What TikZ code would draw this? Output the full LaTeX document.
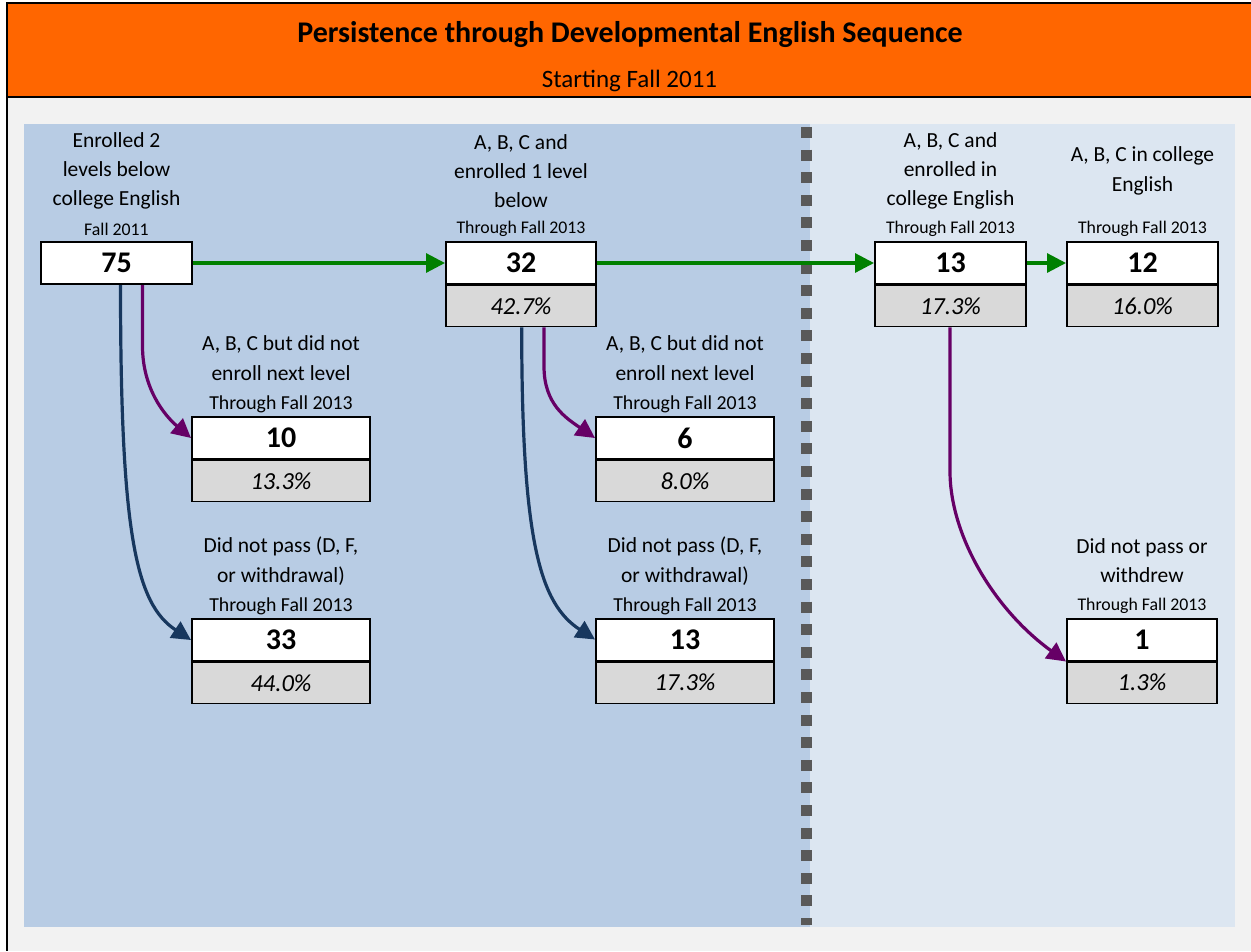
\documentclass[tikz,border=0pt]{standalone}
\usepackage{fontspec}
\setmainfont{Carlito}
\usetikzlibrary{arrows.meta,calc}
\definecolor{hdr}{HTML}{FF6600}
\definecolor{bgg}{HTML}{F2F2F2}
\definecolor{pdark}{HTML}{B8CCE4}
\definecolor{plight}{HTML}{DCE6F1}
\definecolor{sepg}{HTML}{595959}
\definecolor{gfill}{HTML}{D9D9D9}
\definecolor{agreen}{HTML}{008000}
\definecolor{apurple}{HTML}{660066}
\definecolor{ablue}{HTML}{17375E}
\tikzset{
  numbox/.style={draw=black,line width=2pt,fill=white,minimum height=42pt,inner sep=0pt,font=\fontsize{30}{32}\selectfont\bfseries},
  pctbox/.style={draw=black,line width=1.3pt,fill=gfill,minimum height=41pt,inner sep=0pt,anchor=north,font=\fontsize{24.5}{28}\selectfont\itshape},
  lbl/.style={align=center,inner sep=0pt,font=\fontsize{21.5}{29.3}\selectfont},
  sml/.style={align=center,inner sep=0pt,font=\fontsize{17.8}{20}\selectfont},
  smlb/.style={align=center,inner sep=0pt,font=\fontsize{19.8}{22}\selectfont},
  garrow/.style={draw=agreen,line width=3.2pt,-{Triangle[length=19pt,width=19pt]}},
  parrow/.style={draw=apurple,line width=3.2pt,-{Triangle[length=19pt,width=19pt]}},
  barrow/.style={draw=ablue,line width=3.2pt,-{Triangle[length=19pt,width=19pt]}}
}
\begin{document}
\begin{tikzpicture}[x=1pt,y=-1pt]
\useasboundingbox (0,0) rectangle (1251,951);
% background
\fill[white] (0,0) rectangle (1251,951);
\fill[bgg] (7,97) rectangle (1251,951);
\fill[hdr] (7,3) rectangle (1251,97);
\draw[black,line width=2pt] (1251,3) -- (7,3) -- (7,951);
\draw[black,line width=2pt] (7,97) -- (1251,97);
\node[font=\fontsize{30}{34}\selectfont\bfseries] (title) at (630,35) {Persistence through Developmental English Sequence};
\node[font=\fontsize{25}{28}\selectfont] (subtitle) at (629.5,81) {Starting Fall 2011};
% panels
\fill[pdark] (24,124) rectangle (810,927);
\fill[plight] (810,124) rectangle (1235,927);
\begin{scope}
\clip (790,124) rectangle (820,924);
\draw[sepg,line width=11pt,dash pattern=on 11pt off 11.6pt] (806.5,127) -- (806.5,930);
\end{scope}
% top row labels
\node[lbl] (l75) at (116.5,171) {Enrolled 2\\levels below\\college English};
\node[sml] (s75) at (116.5,229) {Fall 2011};
\node[lbl] (l32) at (521,171) {A, B, C and\\enrolled 1 level\\below};
\node[sml] (s32) at (521,229) {Through Fall 2013};
\node[lbl] (l13a) at (950.5,171) {A, B, C and\\enrolled in\\college English};
\node[sml] (s13a) at (950.5,229) {Through Fall 2013};
\node[lbl] (l12) at (1142.5,171) {A, B, C in college\\English};
\node[sml] (s12) at (1142.5,229) {Through Fall 2013};
% lower labels
\node[lbl] (l10) at (281,358) {A, B, C but did not\\enroll next level};
\node[smlb] (s10) at (281,404) {Through Fall 2013};
\node[lbl] (l33) at (281,561) {Did not pass (D, F,\\or withdrawal)};
\node[smlb] (s33) at (281,606) {Through Fall 2013};
\node[lbl] (l6) at (685,358) {A, B, C but did not\\enroll next level};
\node[smlb] (s6) at (685,404) {Through Fall 2013};
\node[lbl] (l13b) at (685,561) {Did not pass (D, F,\\or withdrawal)};
\node[smlb] (s13b) at (685,606) {Through Fall 2013};
\node[lbl] (l1) at (1142,560.5) {Did not pass or\\withdrew};
\node[sml] (s1) at (1142,606) {Through Fall 2013};
% boxes
\node[numbox,minimum width=151pt] (b75) at (116.5,263) {75};
\node[numbox,minimum width=150pt] (b32) at (521,263) {32};
\node[pctbox,minimum width=150pt] (p32) at (b32.south) {42.7\%};
\node[numbox,minimum width=151pt] (b13a) at (950.5,263) {13};
\node[pctbox,minimum width=151pt] (p13a) at (b13a.south) {17.3\%};
\node[numbox,minimum width=151pt] (b12) at (1142.5,263) {12};
\node[pctbox,minimum width=151pt] (p12) at (b12.south) {16.0\%};
\node[numbox,minimum width=178pt] (b10) at (281,438) {10};
\node[pctbox,minimum width=178pt] (p10) at (b10.south) {13.3\%};
\node[numbox,minimum width=178pt] (b33) at (281,640) {33};
\node[pctbox,minimum width=178pt] (p33) at (b33.south) {44.0\%};
\node[numbox,minimum width=178pt] (b6) at (685,438) {6};
\node[pctbox,minimum width=178pt] (p6) at (b6.south) {8.0\%};
\node[numbox,minimum width=178pt] (b13b) at (685,639.5) {13};
\node[pctbox,minimum width=178pt] (p13b) at (b13b.south) {17.3\%};
\node[numbox,minimum width=150pt] (b1) at (1142,639.5) {1};
\node[pctbox,minimum width=150pt] (p1) at (b1.south) {1.3\%};
% green arrows
\draw[garrow] (b75.east) -- (b32.west);
\draw[garrow] (b32.east) -- (b13a.west);
\draw[garrow] (b13a.east) -- (b12.west);
% curved arrows left
\coordinate (a75p) at ($(b75.south)+(26,0)$);
\coordinate (a75b) at ($(b75.south)+(4,0)$);
\draw[parrow] (a75p) -- ++(0,61) .. controls ++(0,42) and ($(b10.west)+(-27,-23)$) .. (b10.west);
\draw[barrow] (a75b) .. controls ++(0,250) and ($(b33.west)+(-55,-36)$) .. (b33.west);
% middle
\coordinate (a32p) at ($(p32.south)+(23,0)$);
\coordinate (a32b) at ($(p32.south)+(0.7,0)$);
\draw[parrow] (a32p) -- ++(0,39) .. controls ++(0,38) and ($(b6.west)+(-29,-20)$) .. (b6.west);
\draw[barrow] (a32b) .. controls ++(0,215) and ($(b13b.west)+(-55,-36)$) .. (b13b.west);
% right
\coordinate (a13p) at ($(p13a.south)+(-0.5,0)$);
\draw[parrow] (a13p) -- ++(0,144) .. controls ++(0,64) and ($(b1.south west)+(-72,-52)$) .. (b1.south west);
\end{tikzpicture}
\end{document}
